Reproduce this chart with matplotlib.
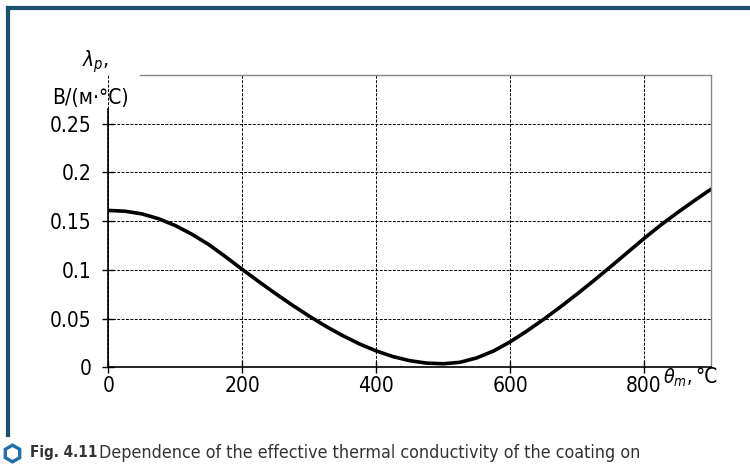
import matplotlib.pyplot as plt
from matplotlib.lines import Line2D
from matplotlib import font_manager

# temperature, deg C
THETA = [0, 25, 50, 75, 100, 125, 150, 175, 200, 225, 250, 275, 300, 325, 350, 375, 400,
         425, 450, 475, 500, 525, 550, 575, 600, 625, 650, 675, 700, 725, 750, 775,
         800, 825, 850, 875, 900]
# effective thermal conductivity, W/(m*C)
LAMBDA = [0.1610, 0.1602, 0.1575, 0.1525, 0.1455, 0.1365, 0.1260, 0.1135, 0.1005, 0.0878,
          0.0755, 0.0637, 0.0525, 0.0420, 0.0325, 0.0240, 0.0168, 0.0110, 0.0068, 0.0043,
          0.0036, 0.0051, 0.0096, 0.0166, 0.0261, 0.0372, 0.0492, 0.0619, 0.0752, 0.0890,
          0.1032, 0.1177, 0.1322, 0.1460, 0.1588, 0.1710, 0.1828]
XTICKS = [0, 200, 400, 600, 800]
YTICKS = [0, 0.05, 0.1, 0.15, 0.2, 0.25]
YTICK_LABELS = ["0", "0.05", "0.1", "0.15", "0.2", "0.25"]

plt.rcParams["font.family"] = "DejaVu Sans"
plt.rcParams["font.stretch"] = "condensed"
cond = font_manager.findfont(font_manager.FontProperties(family="DejaVu Sans", stretch="condensed"))
SZ = 15 if "Condensed" in cond else 13

FRAME = "#1d4e6e"
INK = "#333333"

fig = plt.figure(figsize=(7.5, 4.73), dpi=100)
ax = fig.add_axes([0.1444, 0.2235, 0.8036, 0.6179])

ax.plot(THETA, LAMBDA, color="black", lw=2.6, solid_capstyle="round", solid_joinstyle="round")

ax.set_xlim(0, 900)
ax.set_ylim(0, 0.3)
ax.set_xticks(XTICKS)
ax.set_yticks(YTICKS, YTICK_LABELS)
ax.tick_params(direction="inout", length=8, width=1.0, labelsize=SZ, colors="black")
ax.tick_params(axis="y", pad=8)
ax.tick_params(axis="x", pad=2)
ax.grid(True, color="black", linestyle=(0, (3, 1.5)), linewidth=0.7)

for side in ["top", "right"]:
    ax.spines[side].set_color("#888888")
    ax.spines[side].set_linewidth(1.0)
ax.spines["top"].set_bounds(47, 900)
ax.spines["left"].set_bounds(0, 0.265)
ax.spines["left"].set_linewidth(1.2)
ax.spines["bottom"].set_linewidth(1.2)

fig.text(0.128, 0.869, r"$\lambda_p$,", fontsize=SZ, ha="center", va="center")
fig.text(0.120, 0.793, "В/(м·°С)", fontsize=SZ, ha="center", va="center")
fig.text(0.903, 0.201, r"$\theta_m$,", fontsize=SZ - 1, ha="center", va="center")
fig.text(0.927, 0.204, "°C", fontsize=SZ, ha="left", va="center")

# frame of the figure box
fig.add_artist(Line2D([0.011, 1.0], [0.983, 0.983], color=FRAME, lw=3, transform=fig.transFigure))
fig.add_artist(Line2D([0.011, 0.011], [0.983, 0.080], color=FRAME, lw=3, transform=fig.transFigure))

# caption
fig.add_artist(Line2D([0.0155], [0.043], marker="h", markersize=12, markerfacecolor="white",
                      markeredgecolor="#1f6fa8", markeredgewidth=2.4, transform=fig.transFigure))
fig.text(0.040, 0.043, "Fig. 4.11", fontsize=11, fontweight="bold", color=INK,
         ha="left", va="center")
fig.text(0.132, 0.043, "Dependence of the effective thermal conductivity of the coating on",
         fontsize=12.8, color=INK, ha="left", va="center")

fig.savefig("out.png", dpi=100)
